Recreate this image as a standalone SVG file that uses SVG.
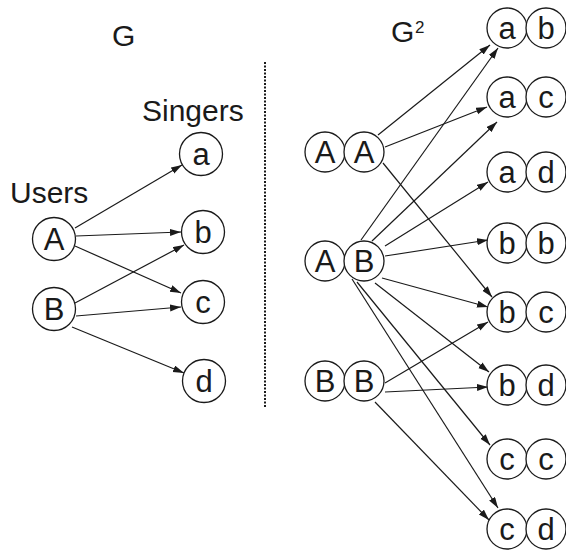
<svg xmlns="http://www.w3.org/2000/svg" width="566" height="552" viewBox="0 0 566 552">
<defs>
<marker id="arr" markerUnits="userSpaceOnUse" markerWidth="12" markerHeight="8" refX="11" refY="3.5" orient="auto">
<path d="M0,0 L11,3.5 L0,7 z" fill="#1a1a1a"/>
</marker>
</defs>
<style>
.n{fill:#fff;stroke:#1a1a1a;stroke-width:1.3}
.t{font-family:"Liberation Sans",Arial,sans-serif;font-size:31px;fill:#1a1a1a;text-anchor:middle}
.lb{font-family:"Liberation Sans",Arial,sans-serif;font-size:30px;fill:#1a1a1a}
.e{stroke:#1a1a1a;stroke-width:1.2;fill:none;marker-end:url(#arr)}
</style>
<rect width="566" height="552" fill="#fff"/>
<g id="labels">
<text class="lb" x="112" y="46">G</text>
<text class="lb" x="142" y="121">Singers</text>
<text class="lb" x="10" y="203">Users</text>
<text class="lb" x="391" y="42">G</text>
<text class="lb" x="415" y="33" style="font-size:17px">2</text>
</g>
<line id="divider" x1="265" y1="62" x2="265" y2="408" stroke="#1a1a1a" stroke-width="2" stroke-dasharray="2,1.5"/>
<g id="connectors">
<line class="e" x1="75" y1="228" x2="182" y2="165"/>
<line class="e" x1="76" y1="236" x2="181" y2="232"/>
<line class="e" x1="75" y1="246" x2="181" y2="293"/>
<line class="e" x1="75" y1="303" x2="184" y2="245"/>
<line class="e" x1="76" y1="316" x2="181" y2="307"/>
<line class="e" x1="72" y1="327" x2="184" y2="373"/>
<line class="e" x1="378" y1="135" x2="490" y2="45"/>
<line class="e" x1="385" y1="147" x2="487" y2="107"/>
<line class="e" x1="383" y1="163" x2="492" y2="297"/>
<line class="e" x1="361" y1="240" x2="498" y2="48"/>
<line class="e" x1="372" y1="241" x2="497" y2="122"/>
<line class="e" x1="385" y1="246" x2="488" y2="182"/>
<line class="e" x1="385" y1="256" x2="488" y2="240"/>
<line class="e" x1="382" y1="278" x2="488" y2="307"/>
<line class="e" x1="375" y1="283" x2="489" y2="372"/>
<line class="e" x1="357" y1="282" x2="490" y2="445"/>
<line class="e" x1="352" y1="279" x2="498" y2="508"/>
<line class="e" x1="385" y1="383" x2="488" y2="322"/>
<line class="e" x1="385" y1="392" x2="488" y2="387"/>
<line class="e" x1="375" y1="402" x2="489" y2="520"/>
</g>
<g id="node-A"><circle class="n" cx="54" cy="239" r="21.5"/><text class="t" x="54" y="250">A</text></g>
<g id="node-B"><circle class="n" cx="54" cy="309" r="21.5"/><text class="t" x="54" y="320">B</text></g>
<g id="node-a"><circle class="n" cx="201" cy="154" r="21.5"/><text class="t" x="201" y="165">a</text></g>
<g id="node-b"><circle class="n" cx="203" cy="232" r="21.5"/><text class="t" x="203" y="243">b</text></g>
<g id="node-c"><circle class="n" cx="203" cy="302" r="21.5"/><text class="t" x="203" y="313">c</text></g>
<g id="node-d"><circle class="n" cx="204" cy="381" r="21.5"/><text class="t" x="204" y="392">d</text></g>
<g id="node-AA"><circle class="n" cx="325" cy="152" r="20"/><text class="t" x="325" y="163">A</text><circle class="n" cx="364" cy="152" r="20"/><text class="t" x="364" y="163">A</text></g>
<g id="node-AB"><circle class="n" cx="325" cy="261" r="20"/><text class="t" x="325" y="272">A</text><circle class="n" cx="364" cy="261" r="20"/><text class="t" x="364" y="272">B</text></g>
<g id="node-BB"><circle class="n" cx="325" cy="381" r="20"/><text class="t" x="325" y="392">B</text><circle class="n" cx="364" cy="381" r="20"/><text class="t" x="364" y="392">B</text></g>
<g id="node-ab"><circle class="n" cx="507" cy="28" r="20"/><text class="t" x="507" y="39">a</text><circle class="n" cx="546" cy="28" r="20"/><text class="t" x="546" y="39">b</text></g>
<g id="node-ac"><circle class="n" cx="507" cy="97" r="20"/><text class="t" x="507" y="108">a</text><circle class="n" cx="546" cy="97" r="20"/><text class="t" x="546" y="108">c</text></g>
<g id="node-ad"><circle class="n" cx="507" cy="172" r="20"/><text class="t" x="507" y="183">a</text><circle class="n" cx="546" cy="172" r="20"/><text class="t" x="546" y="183">d</text></g>
<g id="node-bb"><circle class="n" cx="507" cy="243" r="20"/><text class="t" x="507" y="254">b</text><circle class="n" cx="546" cy="243" r="20"/><text class="t" x="546" y="254">b</text></g>
<g id="node-bc"><circle class="n" cx="507" cy="312" r="20"/><text class="t" x="507" y="323">b</text><circle class="n" cx="546" cy="312" r="20"/><text class="t" x="546" y="323">c</text></g>
<g id="node-bd"><circle class="n" cx="507" cy="385" r="20"/><text class="t" x="507" y="396">b</text><circle class="n" cx="546" cy="385" r="20"/><text class="t" x="546" y="396">d</text></g>
<g id="node-cc"><circle class="n" cx="507" cy="459" r="20"/><text class="t" x="507" y="470">c</text><circle class="n" cx="546" cy="459" r="20"/><text class="t" x="546" y="470">c</text></g>
<g id="node-cd"><circle class="n" cx="507" cy="529" r="20"/><text class="t" x="507" y="540">c</text><circle class="n" cx="546" cy="529" r="20"/><text class="t" x="546" y="540">d</text></g>
</svg>
